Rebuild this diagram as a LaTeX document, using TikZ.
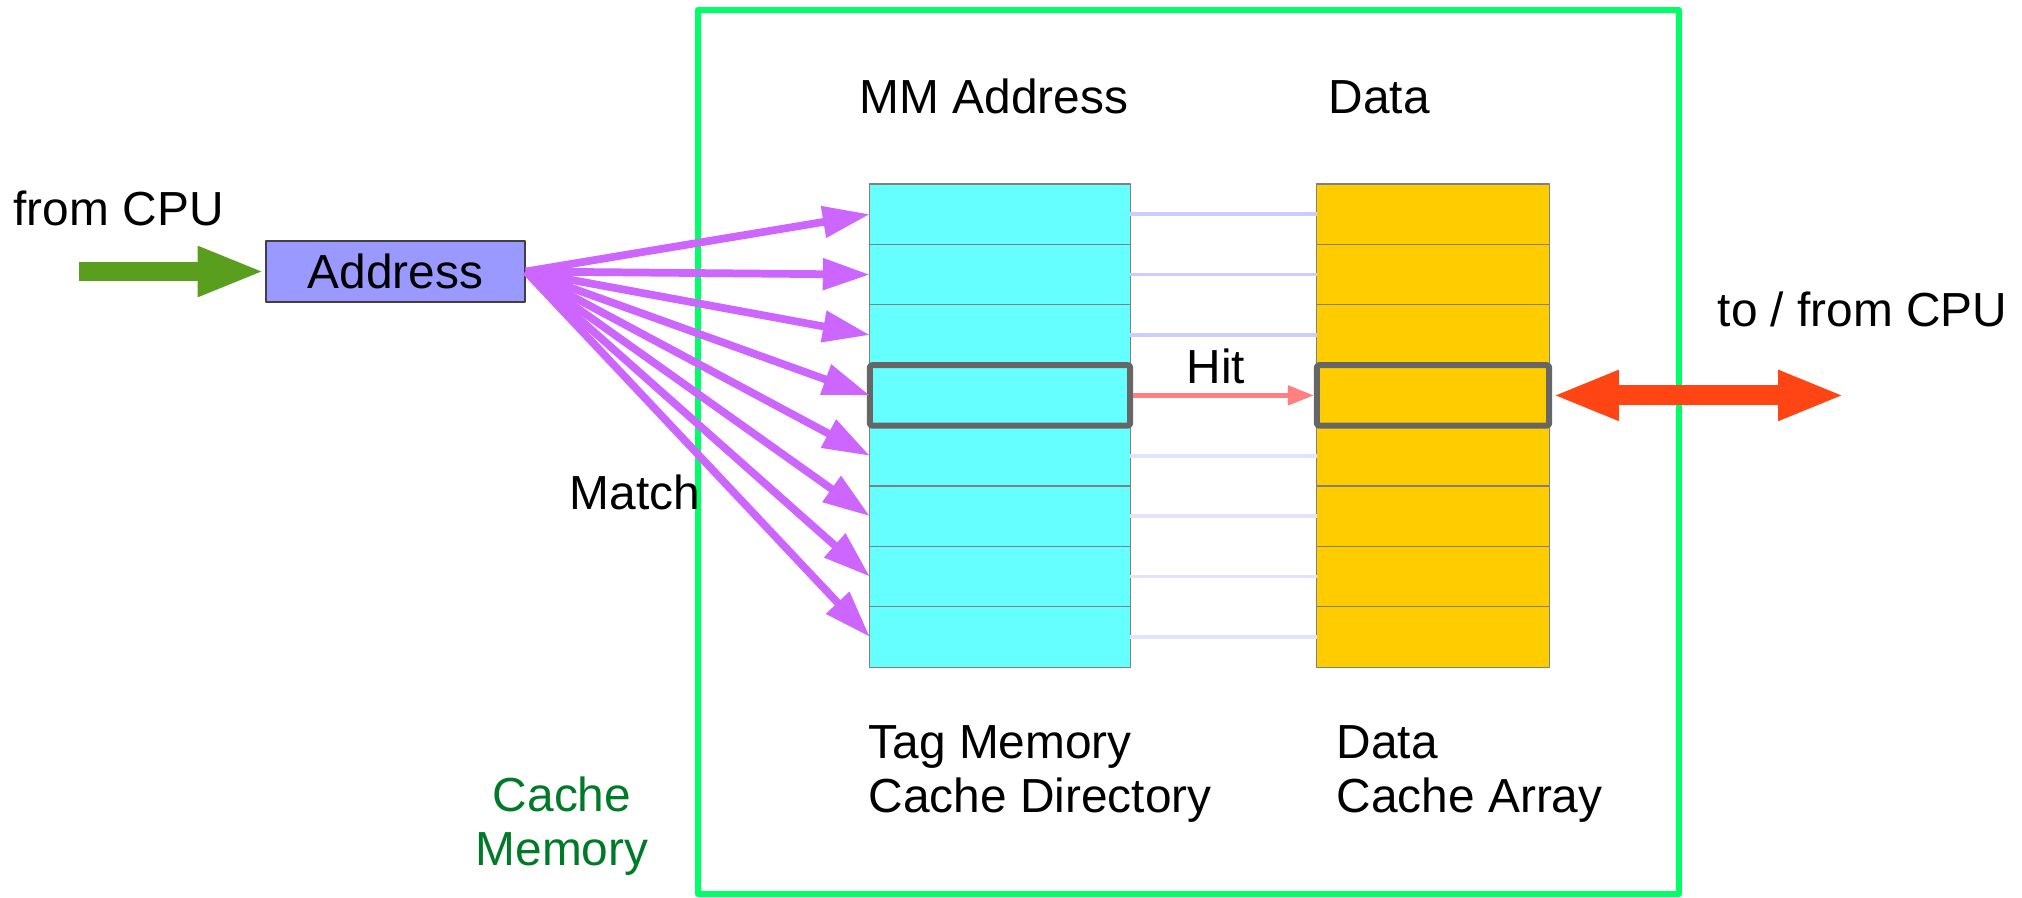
\documentclass[tikz,border=0pt]{standalone}
\usepackage{fontspec}
\setmainfont{Liberation Sans}
\usetikzlibrary{arrows.meta}

\definecolor{framegreen}{RGB}{0,255,102}
\definecolor{tagcyan}{RGB}{102,255,255}
\definecolor{datagold}{RGB}{255,204,0}
\definecolor{addrblue}{RGB}{153,153,255}
\definecolor{matchpink}{RGB}{204,102,255}
\definecolor{hitred}{RGB}{255,128,128}
\definecolor{busred}{RGB}{255,69,19}
\definecolor{cpugreen}{RGB}{90,158,30}
\definecolor{labelgreen}{RGB}{0,122,40}
\definecolor{linkblue}{RGB}{204,204,255}
\definecolor{linkpale}{RGB}{226,226,255}
\definecolor{boxgray}{RGB}{102,102,102}

\begin{document}
\begin{tikzpicture}[line join=round, x=0.01cm, y=-0.01cm,
    font=\fontsize{13.6}{15.1}\selectfont,
    lbl/.style={inner sep=0pt, anchor=base west},
    tagrow/.style={draw=gray, line width=0.3pt, fill=tagcyan, minimum width=2.6cm, minimum height=0.604cm, inner sep=0pt, outer sep=0pt},
    datarow/.style={tagrow, fill=datagold, minimum width=2.32cm},
    addrbox/.style={draw=gray!50!black, line width=0.4pt, fill=addrblue, minimum width=2.59cm, minimum height=0.61cm, inner sep=0pt},
    hitbox/.style={draw=boxgray, line width=1.7pt, rounded corners=0.6pt},
    link/.style={line width=1pt},
    match/.style={draw=matchpink, line width=2.2pt, -{Triangle[length=13.4pt, width=8.6pt]}},
    hit/.style={draw=hitred, line width=1.4pt, -{Triangle[length=7.4pt, width=5.4pt]}, shorten <=0.85pt, shorten >=0.85pt},
    cpuin/.style={draw=cpugreen, line width=5.4pt, -{Triangle[length=19.2pt, width=13pt]}},
    bus/.style={draw=busred, line width=5.7pt, {Triangle[length=19pt, width=13pt]}-{Triangle[length=19pt, width=13pt]}, shorten <=0.85pt},
    frame/.style={draw=framegreen, line width=1.7pt}]
    \useasboundingbox (0,0) rectangle (2022,897);

    % cache memory outline
    \draw[frame] (698,10) rectangle (1679,894);

    % tag memory and data array
    \foreach \i in {1,...,8} {
        \node[tagrow] (t\i) at (1000, {184+60.4*(\i-0.5)}) {};
        \node[datarow] (d\i) at (1433, {184+60.4*(\i-0.5)}) {};
    }
    \foreach \i/\c in {1/linkblue, 2/linkblue, 3/linkblue, 5/linkpale, 6/linkpale, 7/linkpale, 8/linkpale}
        \draw[link, draw=\c] (t\i.east) -- (d\i.west);
    \draw[hitbox] (t4.north west) rectangle (t4.south east);
    \draw[hitbox] (d4.north west) rectangle (d4.south east);

    \node[addrbox] (addr) at (395.5, 271.5) {Address};
    \coordinate (cpu) at (79, 271.5);
    \coordinate (bus) at (1845, 395.4);

    \draw[cpuin] (cpu) -- (addr.west);
    \foreach \i in {1,...,8}
        \draw[match] (addr.east) -- (t\i.west);
    \draw[hit] (t4.east) -- (d4.west);
    \draw[bus] (d4.east) -- (bus);

    % labels
    \node[lbl] (fromcpu) at (13, 225) {from CPU};
    \node[lbl] (tofrom) at (1717, 326) {to / from CPU};
    \node[lbl] (mmaddr) at (859, 113) {MM Address};
    \node[lbl] (datahead) at (1328, 113) {Data};
    \node[lbl] (hitlbl) at (1186, 383) {Hit};
    \node[lbl] (matchlbl) at (569, 509) {Match};
    \node[lbl, align=left] (taglbl) at (868, 812) {Tag Memory\\Cache Directory};
    \node[lbl, align=left] (datalbl) at (1336, 812) {Data\\Cache Array};
    \node[lbl, anchor=base, align=center, text=labelgreen] (cachelbl) at (562, 865) {Cache\\Memory};
\end{tikzpicture}
\end{document}
